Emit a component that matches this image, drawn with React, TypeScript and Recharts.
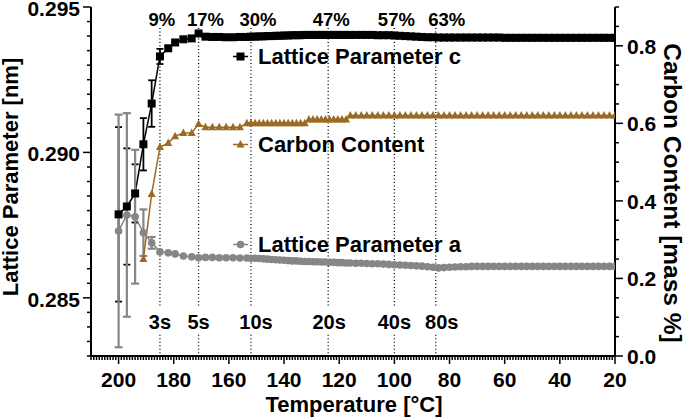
import React from 'react';
import { ComposedChart, Line, XAxis, YAxis, ErrorBar, ReferenceLine } from 'recharts';

const FONT = '"Liberation Sans", Arial, sans-serif';
const BROWN = '#9b6b25';
const GRAY = '#868686';

// measurement temperature [°C]
const temperature = [
  200, 197, 194, 191, 188, 185, 182, 179.5, 176.5, 173.5, 171,
  168.5, 166, 163.5, 161, 158.5, 156, 153.5,
  152, 150.5, 149, 147.5, 146, 144.5, 143, 141.5, 140, 138.5, 137, 135.5, 134, 132.5, 131,
  129.5, 128, 126.5, 125, 123.5, 122, 120.5, 119, 117.5, 116,
  114, 112, 110, 108, 106, 104, 102, 100,
  98, 96, 94, 92, 90, 88, 86,
  84, 82, 80, 78, 76, 74, 72, 70, 68, 66, 64, 62, 60, 58, 56, 54, 52, 50, 48, 46, 44, 42, 40,
  38, 36, 34, 32, 30, 28, 26, 24, 22, 20,
];

// lattice parameter c [nm]
const latticeC = [
  0.28787, 0.28814, 0.28859, 0.29028, 0.29168, 0.2933, 0.29358, 0.29378, 0.29389, 0.29392, 0.29409,
  0.29398, 0.29397, 0.29397, 0.29396, 0.29396, 0.29397, 0.29397,
  0.29398, 0.29398, 0.29399, 0.29399, 0.294, 0.294, 0.29401, 0.29401, 0.29402, 0.29402, 0.29403, 0.29403, 0.29403, 0.29404, 0.29404,
  0.29404, 0.29404, 0.29404, 0.29404, 0.29404, 0.29404, 0.29404, 0.29404, 0.29404, 0.29404,
  0.29404, 0.29404, 0.29404, 0.29404, 0.29403, 0.29403, 0.29403, 0.29402,
  0.29401, 0.294, 0.29399, 0.29398, 0.29397, 0.29396, 0.29396,
  0.29395, 0.29395, 0.29395, 0.29395, 0.29395, 0.29395, 0.29395, 0.29395, 0.29395, 0.29395, 0.29395, 0.29395,
  0.29394, 0.29394, 0.29394, 0.29394, 0.29394, 0.29394, 0.29394, 0.29394, 0.29394, 0.29394, 0.29394,
  0.29394, 0.29394, 0.29394, 0.29394, 0.29394, 0.29394, 0.29394, 0.29394, 0.29394, 0.29394,
];

// lattice parameter a [nm]
const latticeA = [
  0.2873, 0.28785, 0.28779, 0.28724, 0.28689, 0.28658, 0.28655, 0.28651, 0.28644, 0.28641, 0.28638,
  0.28639, 0.28639, 0.28638, 0.28638, 0.28638, 0.28637, 0.28637,
  0.28636, 0.28636, 0.28635, 0.28634, 0.28633, 0.28632, 0.28631, 0.2863, 0.28629, 0.28628, 0.28627, 0.28627, 0.28626, 0.28625, 0.28625,
  0.28624, 0.28624, 0.28623, 0.28623, 0.28622, 0.28622, 0.28621, 0.28621, 0.2862, 0.2862,
  0.28619, 0.28619, 0.28618, 0.28617, 0.28617, 0.28616, 0.28615, 0.28614,
  0.28613, 0.28612, 0.28611, 0.2861, 0.28609, 0.28607, 0.28605,
  0.28603, 0.28604, 0.28605, 0.28606, 0.28607, 0.28607, 0.28608, 0.28608, 0.28608, 0.28608, 0.28608,
  0.28608, 0.28608, 0.28608, 0.28608, 0.28608, 0.28608, 0.28608, 0.28608, 0.28608, 0.28608, 0.28608,
  0.28608, 0.28608, 0.28608, 0.28608, 0.28608, 0.28608, 0.28608, 0.28608, 0.28608, 0.28608, 0.28608,
];

// carbon content [mass %]
const carbonContent = [
  null, null, null, 0.25, 0.418, 0.539, 0.549, 0.567, 0.575, 0.575, 0.598,
  0.59, 0.59, 0.59, 0.59, 0.59, 0.59, 0.6,
  0.6, 0.6, 0.6, 0.6, 0.6, 0.6, 0.6, 0.6, 0.6, 0.6, 0.6, 0.6, 0.6, 0.6, 0.61,
  0.61, 0.61, 0.61, 0.61, 0.61, 0.61, 0.61, 0.61, 0.61, 0.62,
  0.62, 0.62, 0.62, 0.62, 0.62, 0.62, 0.62, 0.62,
  0.62, 0.62, 0.62, 0.62, 0.62, 0.62, 0.62,
  0.62, 0.62, 0.62, 0.62, 0.62, 0.62, 0.62, 0.62, 0.62, 0.62, 0.62,
  0.62, 0.62, 0.62, 0.62, 0.62, 0.62, 0.62, 0.62, 0.62, 0.62, 0.62,
  0.62, 0.62, 0.62, 0.62, 0.62, 0.62, 0.62, 0.62, 0.62, 0.62, 0.62,
];

// error bars of the first (hottest) points
const latticeCError = [0.003, 0.002, 0.001, 0.0009, 0.0008, 0.00026];
const latticeAError = [0.004, 0.0035, 0.0023, 0.0008, 0.0002];

// dotted markers: temperature, transformed fraction, time
const markerTemps = [185, 171, 152, 124, 100, 85];
const markerPercent = ['9%', '17%', '30%', '47%', '57%', '63%'];
const markerTime = ['3s', '5s', '10s', '20s', '40s', '80s'];
const percentShift = [2, 7, 7, 3, 2, 11];
const timeShift = [0, 0, 5, 1, 0, 6];

const xMajorTicks = [200, 180, 160, 140, 120, 100, 80, 60, 40, 20];
const leftMajorTicks = [0.285, 0.29, 0.295];
const rightMajorTicks = [0, 0.2, 0.4, 0.6, 0.8];

const xTicks = Array.from({ length: 191 }, (_, i) => 20 + i);
const leftTicks = Array.from({ length: 25 }, (_, i) => +(0.283 + i * 0.0005).toFixed(4));
const rightTicks = Array.from({ length: 19 }, (_, i) => +(i * 0.05).toFixed(2));

const data = temperature.map((T, i) => ({
  T,
  c: latticeC[i],
  a: latticeA[i],
  carbon: carbonContent[i],
  cErr: latticeCError[i],
  aErr: latticeAError[i],
}));

const isMajor = (v: number, majors: number[]) => majors.some((m) => Math.abs(m - v) < 1e-7);

const tickText = { fontFamily: FONT, fontWeight: 700, fontSize: 21, fill: '#000' };

const XTick = (props: any) => {
  const { x, y, payload } = props;
  const major = isMajor(payload.value, xMajorTicks);
  return (
    <g>
      <line x1={x} x2={x} y1={y} y2={y + (major ? 8 : 4)} stroke="#000" strokeWidth={1.5} />
      {major && (
        <text x={x} y={y + 31} textAnchor="middle" {...tickText}>
          {payload.value}
        </text>
      )}
    </g>
  );
};

const LeftTick = (props: any) => {
  const { x, y, payload } = props;
  const major = isMajor(payload.value, leftMajorTicks);
  return (
    <g>
      <line x1={x - (major ? 8 : 4)} x2={x} y1={y} y2={y} stroke="#000" strokeWidth={1.5} />
      {major && (
        <text x={x - 11} y={y + 9} textAnchor="end" {...tickText}>
          {payload.value.toFixed(3)}
        </text>
      )}
    </g>
  );
};

const RightTick = (props: any) => {
  const { x, y, payload } = props;
  const major = isMajor(payload.value, rightMajorTicks);
  return (
    <g>
      <line x1={x} x2={x + (major ? 8 : 4)} y1={y} y2={y} stroke="#000" strokeWidth={1.5} />
      {major && (
        <text x={x + 12} y={y + 8} textAnchor="start" {...tickText}>
          {payload.value.toFixed(1)}
        </text>
      )}
    </g>
  );
};

function Marker({ shape, cx, cy, color }: { shape: string; cx: number; cy: number; color: string }) {
  if (shape === 'square') return <rect x={cx - 4} y={cy - 4} width={8} height={8} fill={color} />;
  if (shape === 'triangle')
    return <polygon points={`${cx},${cy - 4.5} ${cx + 4},${cy + 3} ${cx - 4},${cy + 3}`} fill={color} />;
  return <circle cx={cx} cy={cy} r={3.8} fill={color} />;
}

const makeDot = (shape: string, color: string) => (props: any) => {
  const { cx, cy, index } = props;
  if (cx == null || cy == null) return <g key={`d-${shape}-${index}`} />;
  return (
    <g key={`d-${shape}-${index}`}>
      <Marker shape={shape} cx={cx} cy={cy} color={color} />
    </g>
  );
};

const legendItems = [
  { label: 'Lattice Parameter c', color: '#000', shape: 'square', baseline: 64 },
  { label: 'Carbon Content', color: BROWN, shape: 'triangle', baseline: 152 },
  { label: 'Lattice Parameter a', color: GRAY, shape: 'circle', baseline: 252 },
];

export default function App() {
  return (
    <div style={{ position: 'absolute', left: 0, top: 0, width: 685, height: 417, background: '#fff' }}>
      <ComposedChart width={685} height={417} data={data} margin={{ top: 7, right: 0, bottom: 0, left: 0 }}>
        <XAxis
          type="number"
          dataKey="T"
          domain={[20, 210]}
          reversed
          allowDataOverflow
          ticks={xTicks}
          interval={0}
          tickSize={0}
          tickMargin={0}
          tick={XTick}
          tickLine={false}
          axisLine={{ stroke: '#000', strokeWidth: 2 }}
          height={61}
        />
        <YAxis
          yAxisId="a"
          orientation="left"
          type="number"
          domain={[0.283, 0.295]}
          allowDataOverflow
          ticks={leftTicks}
          interval={0}
          tickSize={0}
          tickMargin={0}
          tick={LeftTick}
          tickLine={false}
          axisLine={{ stroke: '#000', strokeWidth: 2 }}
          width={91}
        />
        <YAxis
          yAxisId="c"
          orientation="right"
          type="number"
          domain={[0, 0.9]}
          allowDataOverflow
          ticks={rightTicks}
          interval={0}
          tickSize={0}
          tickMargin={0}
          tick={RightTick}
          tickLine={false}
          axisLine={{ stroke: '#000', strokeWidth: 2 }}
          width={70}
        />
        {markerTemps.map((t, i) => (
          <ReferenceLine
            key={`up-${t}`}
            yAxisId="a"
            segment={[{ x: t, y: 0.29428 }, { x: t, y: 0.28466 }]}
            stroke="#000"
            strokeWidth={1.3}
            strokeDasharray="1 2.5"
            label={{
              value: markerPercent[i],
              position: 'top',
              offset: 2,
              dx: percentShift[i],
              fill: '#000',
              fontSize: 18.5,
              fontWeight: 700,
              fontFamily: FONT,
            }}
          />
        ))}
        {markerTemps.map((t, i) => (
          <ReferenceLine
            key={`low-${t}`}
            yAxisId="a"
            segment={[{ x: t, y: 0.28373 }, { x: t, y: 0.283 }]}
            stroke="#000"
            strokeWidth={1.3}
            strokeDasharray="1 2.5"
            label={{
              value: markerTime[i],
              position: 'top',
              offset: 6,
              dx: timeShift[i],
              fill: '#000',
              fontSize: 20,
              fontWeight: 700,
              fontFamily: FONT,
            }}
          />
        ))}
        <Line
          yAxisId="a"
          dataKey="c"
          stroke="#000"
          strokeWidth={1.5}
          dot={makeDot('square', '#000')}
          isAnimationActive={false}
        >
          <ErrorBar dataKey="cErr" direction="y" width={3.5} stroke="#000" strokeWidth={1.8} />
        </Line>
        <Line
          yAxisId="a"
          dataKey="a"
          stroke={GRAY}
          strokeWidth={1.5}
          dot={makeDot('circle', GRAY)}
          isAnimationActive={false}
        >
          <ErrorBar dataKey="aErr" direction="y" width={4} stroke={GRAY} strokeWidth={2.2} />
        </Line>
        <Line
          yAxisId="c"
          dataKey="carbon"
          stroke={BROWN}
          strokeWidth={1.5}
          dot={makeDot('triangle', BROWN)}
          isAnimationActive={false}
        />
      </ComposedChart>
      <svg
        width={685}
        height={417}
        style={{ position: 'absolute', left: 0, top: 0, pointerEvents: 'none' }}
      >
        {legendItems.map((item) => (
          <g key={item.label}>
            <line
              x1={233}
              x2={248}
              y1={item.baseline - 7.5}
              y2={item.baseline - 7.5}
              stroke={item.color}
              strokeWidth={1.5}
            />
            <Marker shape={item.shape} cx={240.5} cy={item.baseline - 7.5} color={item.color} />
            <text x={258} y={item.baseline} fontFamily={FONT} fontWeight={700} fontSize={22} fill="#000">
              {item.label}
            </text>
          </g>
        ))}
        <text x={354} y={412} textAnchor="middle" fontFamily={FONT} fontWeight={700} fontSize={22} fill="#000">
          Temperature [°C]
        </text>
        <text
          transform="translate(18, 177) rotate(-90)"
          textAnchor="middle"
          fontFamily={FONT}
          fontWeight={700}
          fontSize={22}
          fill="#000"
        >
          Lattice Parameter [nm]
        </text>
        <text
          transform="translate(664, 193) rotate(90)"
          textAnchor="middle"
          fontFamily={FONT}
          fontWeight={700}
          fontSize={24.5}
          fill="#000"
        >
          Carbon Content [mass %]
        </text>
      </svg>
    </div>
  );
}
